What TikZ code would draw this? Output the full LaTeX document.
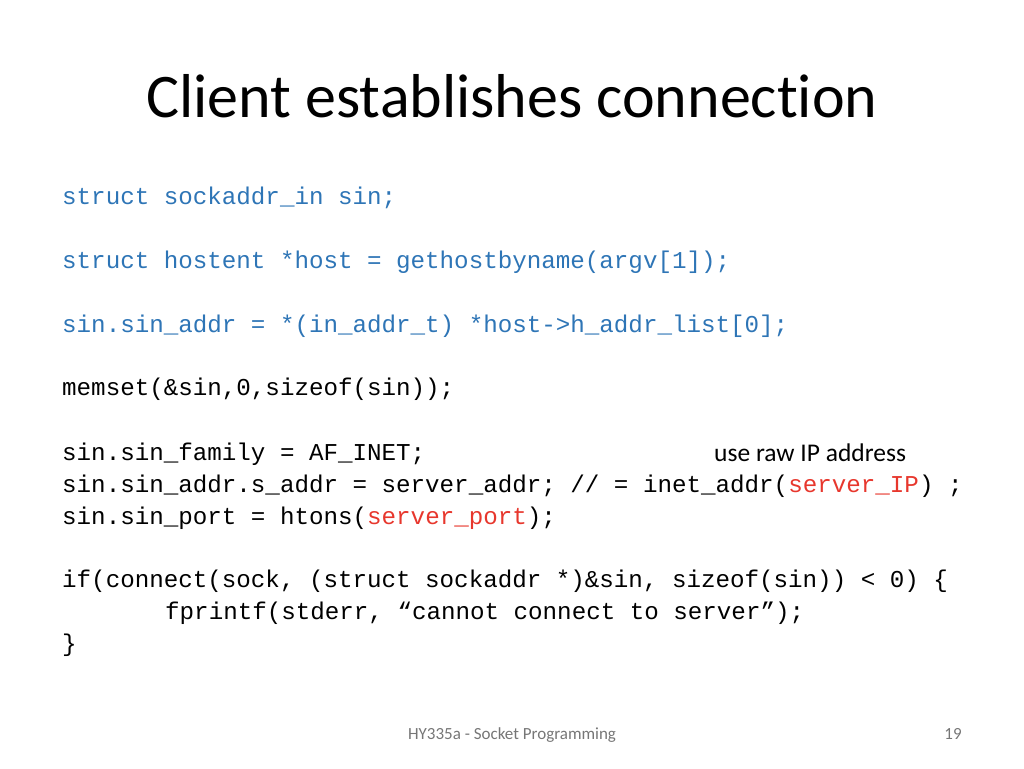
\documentclass[tikz,border=0pt]{standalone}
\usepackage{fontspec}
\setmainfont{Carlito}[Ligatures={NoCommon}]
\setmonofont{Liberation Mono}
\definecolor{cblue}{RGB}{46,117,182}
\definecolor{cred}{RGB}{231,55,45}
\definecolor{fgray}{RGB}{118,118,118}
\begin{document}
\begin{tikzpicture}[x=1pt,y=-1pt,
  code/.style={anchor=base west,inner sep=0pt,font=\fontsize{24.2}{24}\selectfont\ttfamily},
  blue/.style={code,text=cblue}]
\useasboundingbox (0,0) rectangle (1024,768);
\node[anchor=base,inner sep=0pt,font=\fontsize{62}{62}\selectfont] (title) at (512,117) {Client establishes connection};
\node[blue] (l1) at (62,204) {struct sockaddr\_in sin;};
\node[blue] (l2) at (62,268) {struct hostent *host = gethostbyname(argv[1]);};
\node[blue] (l3) at (62,332) {sin.sin\_addr = *(in\_addr\_t) *host->h\_addr\_list[0];};
\node[code] (l4) at (62,395) {memset(\&sin,0,sizeof(sin));};
\node[code] (l5) at (62,460) {sin.sin\_family = AF\_INET;};
\node[code] (l6) at (62,492) {sin.sin\_addr.s\_addr = server\_addr; // = inet\_addr(\textcolor{cred}{server\_IP}) ;};
\node[code] (l7) at (62,524) {sin.sin\_port = htons(\textcolor{cred}{server\_port});};
\node[code] (l8) at (62,587) {if(connect(sock, (struct sockaddr *)\&sin, sizeof(sin)) < 0) \{};
\node[code] (l9) at (165,619) {fprintf(stderr, “cannot connect to server”);};
\node[code] (l10) at (62,651) {\}};
\node[anchor=base west,inner sep=0pt,font=\fontsize{25.5}{25}\selectfont] (note) at (714,461) {use raw IP address};
\node[anchor=base,inner sep=0pt,font=\fontsize{17}{17}\selectfont,text=fgray] (foot) at (512,739) {HY335a - Socket Programming};
\node[anchor=base,inner sep=0pt,font=\fontsize{17}{17}\selectfont,text=fgray] (num) at (953,739) {19};
\end{tikzpicture}
\end{document}
